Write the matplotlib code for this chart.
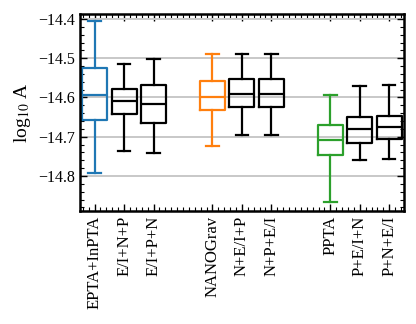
import matplotlib
matplotlib.use("Agg")
import matplotlib.pyplot as plt
from matplotlib.ticker import MultipleLocator

plt.rcParams['font.family'] = ['Liberation Serif', 'DejaVu Serif']
plt.rcParams['mathtext.fontset'] = 'stix'

labels = ['EPTA+InPTA', 'E/I+N+P', 'E/I+P+N',
          'NANOGrav', 'N+E/I+P', 'N+P+E/I',
          'PPTA', 'P+E/I+N', 'P+N+E/I']
positions = [1, 2, 3, 5, 6, 7, 9, 10, 11]
whislo = [-14.793, -14.736, -14.742, -14.724, -14.695, -14.695, -14.866, -14.760, -14.757]
q1 = [-14.658, -14.643, -14.664, -14.633, -14.624, -14.624, -14.746, -14.717, -14.705]
med = [-14.593, -14.608, -14.616, -14.598, -14.590, -14.590, -14.708, -14.680, -14.674]
q3 = [-14.525, -14.579, -14.568, -14.558, -14.552, -14.552, -14.669, -14.651, -14.646]
whishi = [-14.405, -14.514, -14.503, -14.489, -14.490, -14.490, -14.593, -14.571, -14.569]
colors = ['C0', 'k', 'k', 'C1', 'k', 'k', 'C2', 'k', 'k']

fig = plt.figure(figsize=(4.16, 3.24), dpi=100)
ax = fig.add_axes([0.192, 0.349, 0.779, 0.607])

for i in range(len(labels)):
    st = dict(whislo=whislo[i], q1=q1[i], med=med[i], q3=q3[i], whishi=whishi[i], fliers=[])
    c = colors[i]
    lw = 1.6
    ax.bxp([st], positions=[positions[i]], widths=0.85, showfliers=False,
           boxprops=dict(color=c, linewidth=lw),
           medianprops=dict(color=c, linewidth=lw),
           whiskerprops=dict(color=c, linewidth=lw),
           capprops=dict(color=c, linewidth=lw))

ax.set_xlim(0.5, 11.5)
ax.set_ylim(-14.889, -14.388)
ax.set_xticks(positions)
ax.set_xticklabels(labels, rotation=90, fontsize=12)
ax.yaxis.set_major_locator(MultipleLocator(0.1))
ax.yaxis.set_minor_locator(MultipleLocator(0.02))
ax.xaxis.set_minor_locator(MultipleLocator(0.2))
ax.tick_params(which='both', direction='in', top=True, right=True)
ax.tick_params(axis='y', labelsize=11.5)
ax.tick_params(which='major', length=5, width=1)
ax.tick_params(which='minor', length=3, width=0.8)
ax.set_axisbelow(True)
ax.grid(axis='y', color='#c8c8c8', linewidth=1.4)
for s in ax.spines.values():
    s.set_linewidth(1.8)
ax.set_ylabel('log$_{10}$ A', fontsize=14)

fig.savefig('out.png', dpi=100)
